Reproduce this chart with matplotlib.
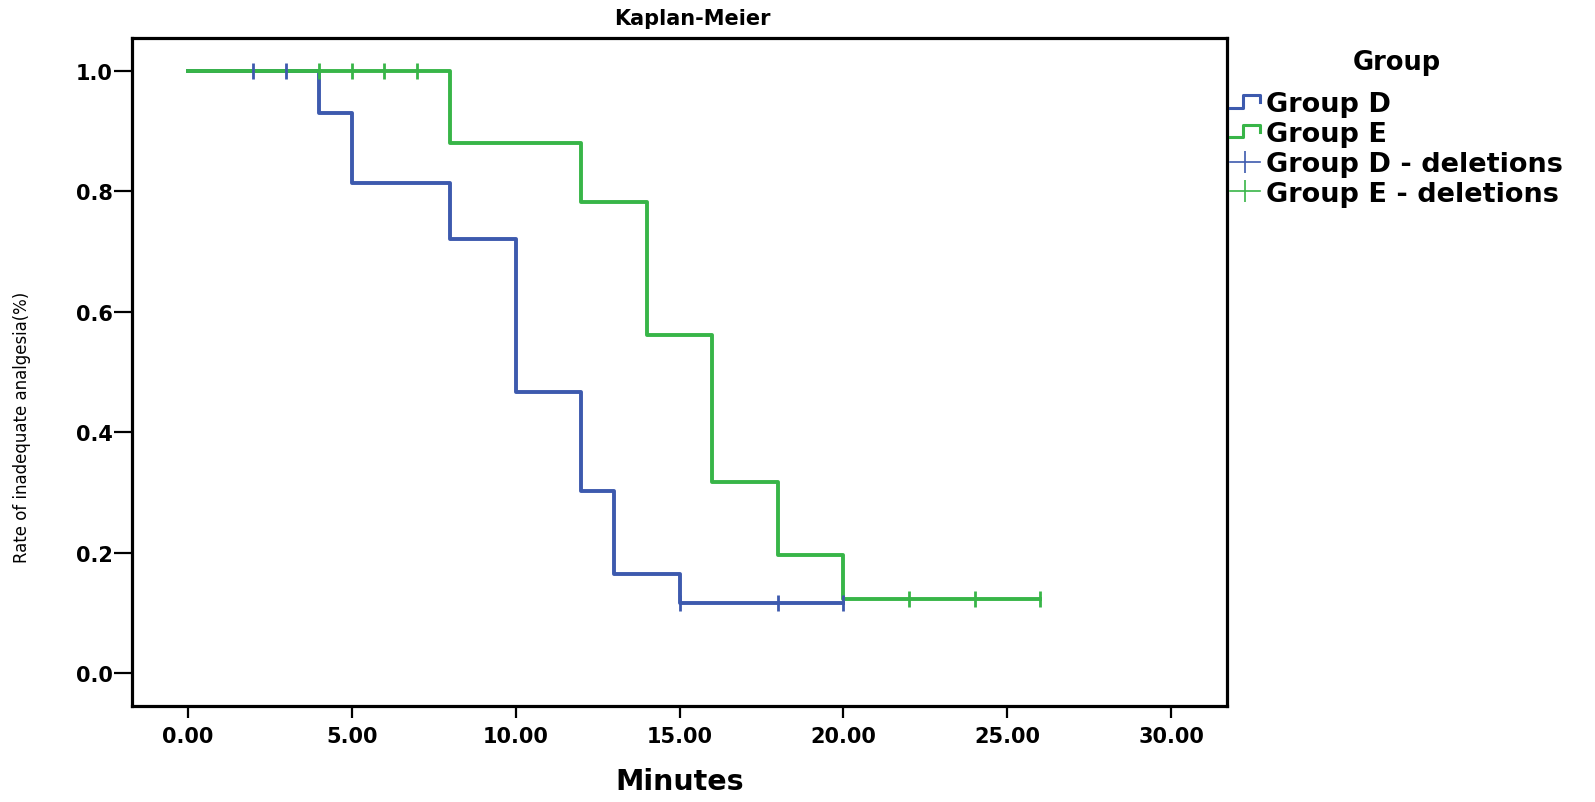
import matplotlib
matplotlib.use("Agg")
import matplotlib.pyplot as plt
from matplotlib.lines import Line2D
from matplotlib.legend_handler import HandlerBase

# ---- data ----
d_times = [0, 4, 5, 8, 10, 12, 13, 15, 20]
d_surv = [1.0, 0.930, 0.814, 0.721, 0.466, 0.302, 0.164, 0.116, 0.116]
d_cens_t = [2, 3, 15, 18, 20]
d_cens_s = [1.0, 1.0, 0.116, 0.116, 0.116]

e_times = [0, 8, 12, 14, 16, 18, 20, 26]
e_surv = [1.0, 0.880, 0.782, 0.562, 0.318, 0.196, 0.123, 0.123]
e_cens_t = [4, 5, 6, 7, 22, 24, 26]
e_cens_s = [1.0, 1.0, 1.0, 1.0, 0.123, 0.123, 0.123]

x_ticks = [0, 5, 10, 15, 20, 25, 30]
x_ticklabels = ["0.00", "5.00", "10.00", "15.00", "20.00", "25.00", "30.00"]
y_ticks = [0.0, 0.2, 0.4, 0.6, 0.8, 1.0]
y_ticklabels = ["0.0", "0.2", "0.4", "0.6", "0.8", "1.0"]

BLUE = "#3d5aae"
GREEN = "#38b548"

fig = plt.figure(figsize=(15.95, 8.03), dpi=100)
ax = fig.add_axes([0.0828, 0.1196, 0.6865, 0.8318])

ax.step(d_times, d_surv, where="post", color=BLUE, lw=2.8, zorder=3)
ax.step(e_times, e_surv, where="post", color=GREEN, lw=2.8, zorder=4)
ax.plot(d_cens_t, d_cens_s, ls="none", marker="|", ms=11, mew=2.0, color=BLUE, zorder=5)
ax.plot(e_cens_t, e_cens_s, ls="none", marker="|", ms=11, mew=2.0, color=GREEN, zorder=6)

ax.set_xlim(-1.7, 31.7)
ax.set_ylim(-0.055, 1.055)
ax.set_xticks(x_ticks)
ax.set_xticklabels(x_ticklabels)
ax.set_yticks(y_ticks)
ax.set_yticklabels(y_ticklabels)
for lab in ax.get_xticklabels() + ax.get_yticklabels():
    lab.set_fontweight("bold")
    lab.set_fontsize(15)
ax.tick_params(axis="y", direction="out", length=13, width=1.6, pad=1)
ax.tick_params(axis="x", direction="out", length=8.5, width=1.6, pad=6)
for sp in ax.spines.values():
    sp.set_linewidth(2.3)
    sp.set_color("black")

ax.set_title("Kaplan-Meier", fontsize=15, fontweight="bold", pad=10, x=0.512)
ax.set_xlabel("Minutes", fontsize=20.5, fontweight="bold", labelpad=15)
ax.set_ylabel("Rate of inadequate analgesia(%)", fontsize=13.2,
              family="DejaVu Sans", fontstretch="condensed")
ax.yaxis.set_label_coords(-0.092, 0.418)


class StepHandler(HandlerBase):
    def create_artists(self, legend, orig_handle, xdescent, ydescent,
                       width, height, fontsize, trans):
        x0 = -xdescent
        y0 = -ydescent
        lo = y0 + height * 0.2
        hi = y0 + height * 0.85
        xs = [x0, x0 + width * 0.45, x0 + width * 0.45, x0 + width, x0 + width]
        ys = [lo, lo, hi, hi, y0 + height * 0.5]
        ln = Line2D(xs, ys, color=orig_handle.get_color(), lw=2.2, transform=trans)
        return [ln]


h_d = Line2D([], [], color=BLUE)
h_e = Line2D([], [], color=GREEN)
h_dc = Line2D([], [], color=BLUE, lw=1.2, marker="|", ms=16, mew=1.2)
h_ec = Line2D([], [], color=GREEN, lw=1.2, marker="|", ms=16, mew=1.2)

leg = fig.legend([h_d, h_e, h_dc, h_ec],
                 ["Group D", "Group E", "Group D - deletions", "Group E - deletions"],
                 title="Group", loc="upper left", bbox_to_anchor=(0.771, 0.938),
                 frameon=False, handler_map={h_d: StepHandler(), h_e: StepHandler()},
                 prop={"weight": "bold", "size": 19.5}, handlelength=1.1,
                 handletextpad=0.25, labelspacing=0.14, borderaxespad=0,
                 borderpad=0)
leg.get_title().set_fontweight("bold")
leg.get_title().set_fontsize(18.5)
leg._legend_box.align = "center"
leg._legend_box.sep = 12

fig.savefig("out.png", dpi=100, facecolor="white")
